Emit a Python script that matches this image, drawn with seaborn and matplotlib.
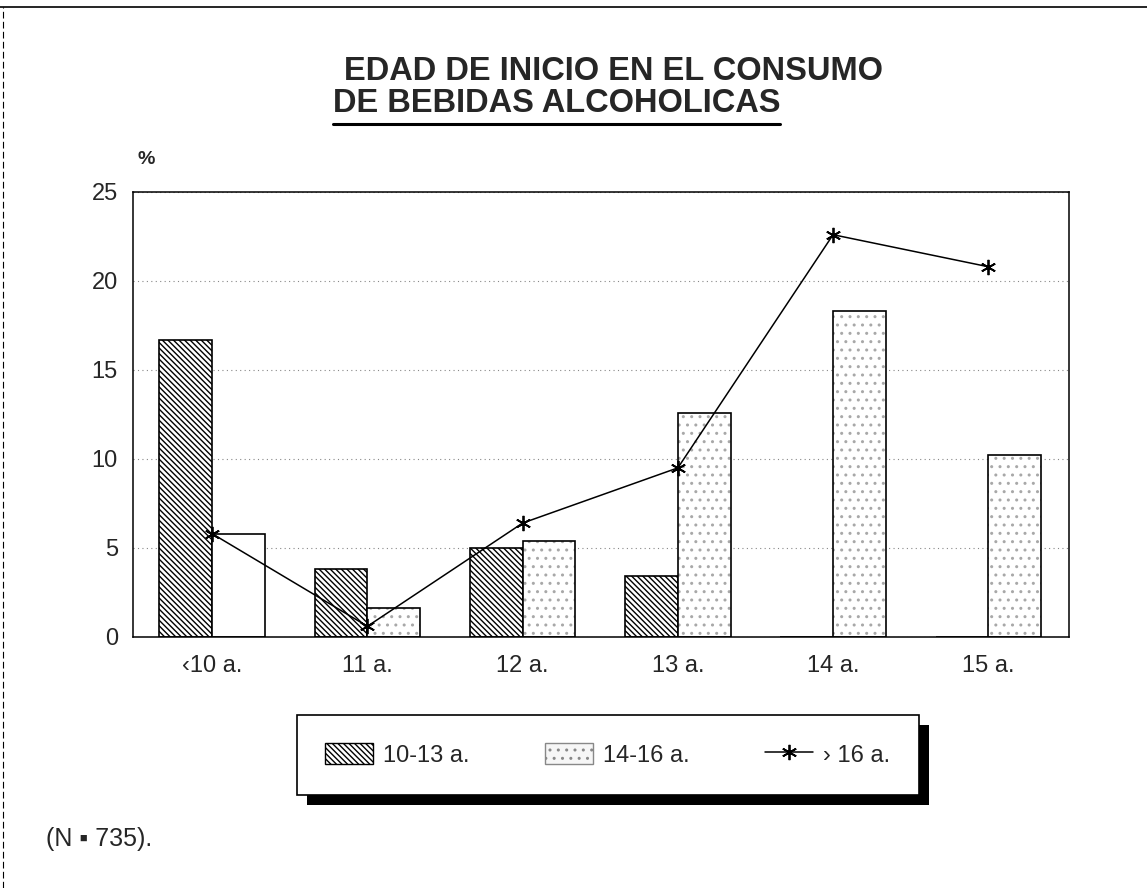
import pandas as pd
import numpy as np
import matplotlib.pyplot as plt
import matplotlib.patches as mpatches
from matplotlib.lines import Line2D
import seaborn as sns

edades = ["\u203910 a.", "11 a.", "12 a.", "13 a.", "14 a.", "15 a."]
grupo_10_13 = [16.7, 3.8, 5.0, 3.4, 0.0, 0.0]
grupo_14_16 = [5.8, 1.6, 5.4, 12.6, 18.3, 10.2]
grupo_mas_16 = [5.8, 0.6, 6.4, 9.5, 22.6, 20.8]
series_bar = ["10-13 a.", "14-16 a."]
serie_linea = "\u203a 16 a."

sns.set_style("white")
plt.rcParams['font.family'] = ['Liberation Sans', 'DejaVu Sans']
plt.rcParams['hatch.linewidth'] = 1.0

df = pd.DataFrame({
    "edad": edades * 2,
    "grupo": [series_bar[0]] * len(edades) + [series_bar[1]] * len(edades),
    "pct": grupo_10_13 + grupo_14_16,
})
df_linea = pd.DataFrame({"edad": edades, "pct": grupo_mas_16})

fig = plt.figure(figsize=(11.47, 8.88), dpi=100)
ax = fig.add_axes([0.116, 0.2827, 0.816, 0.5011])

sns.barplot(data=df, x="edad", y="pct", hue="grupo", order=edades,
            hue_order=series_bar, width=0.68, gap=0, palette=["white", "white"],
            edgecolor="black", linewidth=1.2, legend=False, ax=ax)

n = len(edades)
bars = ax.patches[:2 * n]
HATCH = "\\" * 6
STIP = "#a8a8a8"
for p in bars[:n]:
    p.set_hatch(HATCH)
# stipple gris claro para 14-16 (la primera barra sale sin trama)
for i, p in enumerate(bars[n:]):
    if i == 0:
        continue
    p.set_edgecolor(STIP)
    p.set_hatch("..")
    p.set_linewidth(0)
    ax.add_patch(mpatches.Rectangle(p.get_xy(), p.get_width(), p.get_height(),
                                    fill=False, edgecolor="black", lw=1.2, zorder=p.get_zorder() + 0.1))

sns.pointplot(data=df_linea, x="edad", y="pct", order=edades, color="black",
              marker=(6, 2, 0), markersize=11, markeredgewidth=1.3,
              linewidth=1.1, errorbar=None, ax=ax)

ax.set_xlim(-0.51, 5.52)
ax.set_ylim(0, 25)
ax.set_yticks([0, 5, 10, 15, 20, 25])
ax.set_xlabel("")
ax.set_ylabel("")
ax.tick_params(axis="y", direction="in", length=6, width=1, pad=11, labelsize=17)
ax.tick_params(axis="x", length=0, pad=13, labelsize=17)
ax.yaxis.grid(True, linestyle=(0, (1, 3)), color="#888888", linewidth=0.8)
ax.set_axisbelow(True)
for s in ax.spines.values():
    s.set_visible(True)
    s.set_color("black")
    s.set_linewidth(1.1)

ax.text(0.005, 1.055, "%", transform=ax.transAxes, fontsize=14, fontweight="bold",
        ha="left", va="bottom")

# titulo en dos lineas, la segunda subrayada
fig.text(0.300, 0.919, "EDAD DE INICIO EN EL CONSUMO", fontsize=23.5, fontweight="bold",
         ha="left", va="center")
t2 = fig.text(0.290, 0.884, "DE BEBIDAS ALCOHOLICAS", fontsize=23.5, fontweight="bold",
              ha="left", va="center")

# leyenda con sombra negra
handles = [
    mpatches.Patch(facecolor="white", edgecolor="black", hatch=HATCH, label=series_bar[0]),
    mpatches.Patch(facecolor="#f6f6f6", edgecolor="#888888", hatch="..", label=series_bar[1]),
    Line2D([0], [0], color="black", marker=(6, 2, 0), markersize=11, markeredgewidth=1.3,
           linewidth=1.1, label=serie_linea),
]
leg = fig.legend(handles=handles, loc="center", bbox_to_anchor=(0.530, 0.150), ncol=3,
                 frameon=True, fancybox=False, framealpha=1, fontsize=17,
                 handlelength=2.0, handleheight=1.0, columnspacing=3.2,
                 borderpad=1.2, handletextpad=0.45, borderaxespad=0)
leg.get_frame().set_edgecolor("black")
leg.get_frame().set_linewidth(1.2)

fig.text(0.04, 0.055, "(N \u25aa 735).", fontsize=18, ha="left", va="center")

fig.canvas.draw()
r = fig.canvas.get_renderer()
bb = leg.get_window_extent(r).transformed(fig.transFigure.inverted())
dx, dy = 10 / 1147, 10 / 888
fig.patches.append(mpatches.Rectangle((bb.x0 + dx, bb.y0 - dy), bb.width, bb.height,
                                      transform=fig.transFigure, facecolor="black",
                                      edgecolor="none", zorder=-1, figure=fig))
tb = t2.get_window_extent(r).transformed(fig.transFigure.inverted())
fig.add_artist(Line2D([tb.x0, tb.x1], [tb.y0 - 0.006, tb.y0 - 0.006], color="black", lw=2.2))
fig.add_artist(Line2D([0, 1], [0.992, 0.992], color="black", lw=1.2))
fig.add_artist(Line2D([0.003, 0.003], [0, 0.992], color="black", lw=0.8, linestyle=(0, (6, 3))))

fig.savefig("out.png", dpi=100)
